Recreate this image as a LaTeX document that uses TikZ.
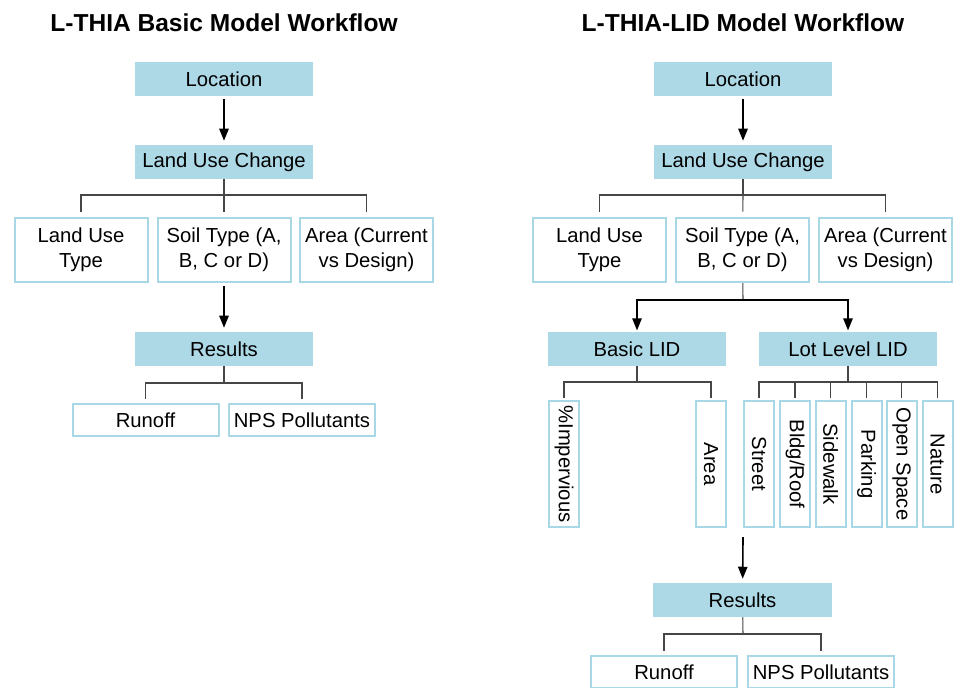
\documentclass[tikz,border=0pt]{standalone}
\usepackage{fontspec}
\setmainfont{Liberation Sans}
\usetikzlibrary{arrows.meta}

\definecolor{lidblue}{RGB}{173,216,230}
\definecolor{lidedge}{RGB}{168,215,229}
\definecolor{treeline}{RGB}{70,70,70}

\tikzset{
  head/.style={fill=lidblue, minimum width=134pt, minimum height=25.5pt, inner sep=0pt,
    font=\fontsize{15.2}{18}\selectfont},
  choice/.style={draw=lidedge, line width=1.5pt, fill=white, minimum width=99.75pt,
    minimum height=48pt, inner sep=0pt, align=center, font=\fontsize{15.2}{18.5}\selectfont},
  outbox/.style={choice, minimum width=109.5pt, minimum height=24pt},
  tallbox/.style={choice, rotate=-90, minimum width=94.5pt, minimum height=22.5pt},
  title/.style={font=\fontsize{18.4}{22}\selectfont\bfseries},
  tree/.style={draw=treeline, line width=0.8pt},
  flow/.style={draw=black, line width=1.2pt, -{Triangle[length=9pt,width=7pt]},
    shorten <=2.25pt, shorten >=3pt},
}

\begin{document}
\begin{tikzpicture}[x=0.75pt,y=0.75pt,yscale=-1]
    \useasboundingbox (0,0) rectangle (955,687);

    %% basic model
    \node[title] (t1) at (224,23) {L-THIA Basic Model Workflow};
    \node[head] (loc1) at (224,79) {Location};
    \node[head] (luc1) at (224,162) {Land Use Change};
    \node[choice] (lut1) at (81,250) {Land Use\\Type};
    \node[choice] (soil1) at (224,250) {Soil Type (A,\\B, C or D)};
    \node[choice] (area1) at (366.5,250) {Area (Current\\vs Design)};
    \node[head] (res1) at (224,349) {Results};
    \node[outbox] (run1) at (145.5,420) {Runoff};
    \node[outbox] (nps1) at (302,420) {NPS Pollutants};

    \coordinate (j1) at (224,195);
    \coordinate (j2) at (224,383);

    \draw[flow] (loc1) -- (luc1);
    \draw[tree] (luc1) -- (j1);
    \draw[tree, shorten >=4pt] (j1) -| (lut1);
    \draw[tree, shorten >=4pt] (j1) -- (soil1);
    \draw[tree, shorten >=4pt] (j1) -| (area1);
    \draw[flow] (soil1) -- (res1);
    \draw[tree] (res1) -- (j2);
    \draw[tree, shorten >=2.75pt] (j2) -| (run1);
    \draw[tree, shorten >=2.75pt] (j2) -| (nps1);

    %% LID model
    \node[title] (t2) at (743,23) {L-THIA-LID Model Workflow};
    \node[head] (loc2) at (743,79) {Location};
    \node[head] (luc2) at (743,162) {Land Use Change};
    \node[choice] (lut2) at (599.5,250) {Land Use\\Type};
    \node[choice] (soil2) at (742.5,250) {Soil Type (A,\\B, C or D)};
    \node[choice] (area2) at (885.5,250) {Area (Current\\vs Design)};
    \node[head] (blid) at (637,349) {Basic LID};
    \node[head] (llid) at (848,349) {Lot Level LID};

    % basic LID inputs
    \node[tallbox] (imp) at (564,464) {\%Impervious};
    \node[tallbox] (barea) at (711,464) {Area};

    % lot level LID inputs
    \node[tallbox] (street) at (759,464) {Street};
    \node[tallbox] (bldg) at (795,464) {Bldg/Roof};
    \node[tallbox] (side) at (830.5,464) {Sidewalk};
    \node[tallbox] (park) at (866.5,464) {Parking};
    \node[tallbox] (open) at (901.5,464) {Open Space};
    \node[tallbox] (nat) at (937.5,464) {Nature};

    \node[head] (res2) at (742.5,600) {Results};
    \node[outbox] (run2) at (664,672) {Runoff};
    \node[outbox] (nps2) at (821,672) {NPS Pollutants};

    \coordinate (j3) at (743,195);
    \coordinate (j4) at (743,300);
    \coordinate (j5) at (637,382);
    \coordinate (j6) at (848,382);
    \coordinate (j7) at (743,537);
    \coordinate (j8) at (743,634);

    \draw[flow] (loc2) -- (luc2);
    \draw[tree] (luc2) -- (j3);
    \draw[tree, shorten >=4pt] (j3) -| (lut2);
    \draw[tree, shorten >=4pt] (j3) -- (soil2);
    \draw[tree, shorten >=4pt] (j3) -| (area2);

    \draw[tree] (soil2) -- (j4);
    \draw[flow, shorten <=0pt, shorten >=1pt] (j4) -| (blid);
    \draw[flow, shorten <=0pt, shorten >=1pt] (j4) -| (llid);

    \draw[tree] (blid) -- (j5);
    \draw[tree, shorten >=1.5pt] (j5) -| (imp);
    \draw[tree, shorten >=1.5pt] (j5) -| (barea);

    \draw[tree] (llid) -- (j6);
    \foreach \n in {street,bldg,side,park,open,nat}
        \draw[tree, shorten >=1.5pt] (j6) -| (\n);

    \draw[flow, shorten <=0pt] (j7) -- (res2);
    \draw[tree] (res2) -- (j8);
    \draw[tree, shorten >=2.75pt] (j8) -| (run2);
    \draw[tree, shorten >=2.75pt] (j8) -| (nps2);
\end{tikzpicture}
\end{document}
